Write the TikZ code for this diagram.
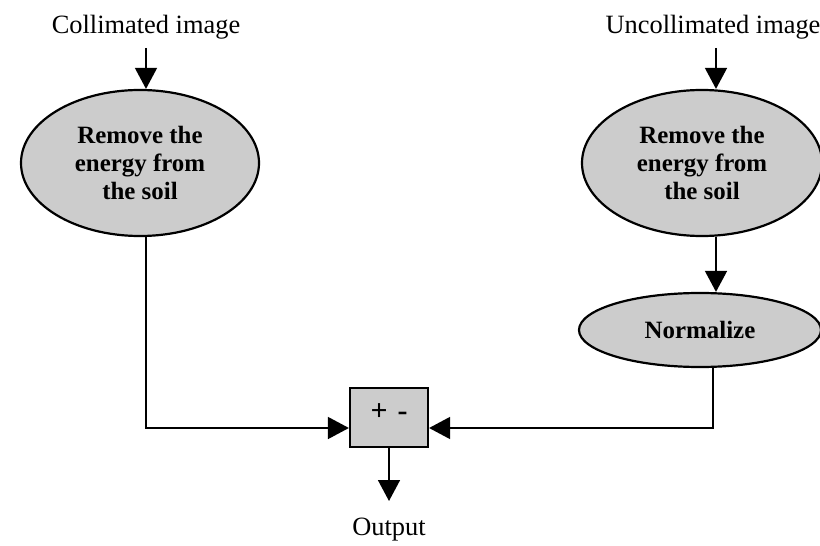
\documentclass[tikz,border=0pt]{standalone}
\usepackage{fontspec}
\setmainfont{Liberation Serif}
\usetikzlibrary{shapes.geometric,arrows.meta}
\begin{document}
\begin{tikzpicture}[x=1bp,y=-1bp,
  lbl/.style={font=\fontsize{26.5}{28}\selectfont, inner sep=0pt},
  blob/.style={ellipse, draw=black, line width=2.2bp, fill=black!20, inner sep=0pt, align=center,
               font=\fontsize{25}{28.5}\selectfont\bfseries},
  sumbox/.style={rectangle, draw=black, line width=2.2bp, fill=black!20, inner sep=0pt,
               minimum width=78bp, minimum height=59bp},
  arr/.style={line width=1.6bp, -{Triangle[length=21bp,width=22bp]}}]
\useasboundingbox (0,0) rectangle (820,546);
% labels
\node[lbl] (c1) at (146,27) {Collimated image};
\node[lbl] (u1) at (713,27) {Uncollimated image};
\node[lbl] (out) at (389,530) {Output};
% ellipses
\node[blob, minimum width=238bp, minimum height=146bp] (e1) at (140,163) {Remove the\\energy from\\the soil};
\node[blob, minimum width=240bp, minimum height=146bp] (e2) at (702,163) {Remove the\\energy from\\the soil};
\node[blob, minimum width=242bp, minimum height=74bp] (n) at (700,330) {Normalize};
% sum box
\node[sumbox] (box) at (389,417.5) {};
\node[font=\fontsize{30}{32}\selectfont\bfseries, inner sep=0pt] (pm) at (389,412) {+\hspace{10bp}-};
% helper coordinates
\coordinate (a1) at (146,48);
\coordinate (a2) at (716,48);
\coordinate (o) at (389,501);
% connectors
\draw[arr] (a1) -- (a1 |- e1.north);
\draw[arr] (a2) -- (a2 |- e2.north);
\draw[arr] ([xshift=14bp]e2.south) -- ([xshift=16bp]n.north);
\draw[arr] ([xshift=13bp]n.south) |- ([yshift=-10.5bp]box.east);
\draw[arr] ([xshift=6bp]e1.south) |- ([yshift=-10.5bp]box.west);
\draw[arr] (box.south) -- (o);
\end{tikzpicture}
\end{document}
